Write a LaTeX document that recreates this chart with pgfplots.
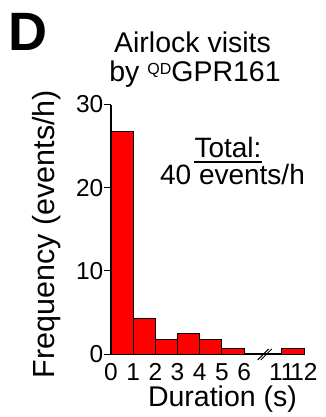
\documentclass[border=0pt]{standalone}
\usepackage{pgfplots}
\pgfplotsset{compat=1.18}
\usepackage{fontspec}
\setmainfont{Liberation Sans}
\newcommand\fs[1]{\fontsize{#1bp}{#1bp}\selectfont}
\newcommand\at[2]{([xshift=#1bp-111bp,yshift=354bp-#2bp]O)}
\begin{document}
\begin{tikzpicture}
\begin{axis}[
  at={(0,0)}, anchor=south west,
  scale only axis,
  width=193bp, height=249.5bp,
  xmin=0, xmax=8.7, ymin=0, ymax=30,
  axis x line=bottom, axis y line=left,
  axis line style={-, line width=1.1bp},
  ybar, bar width=1, bar shift=0pt,
  xtick={0,1,2,3,4,5,6,7.7,8.7},
  xticklabels={0,1,2,3,4,5,6,11,12},
  ytick={0,10,20,30},
  x tick style={draw=none},
  y tick style={line width=1bp, black},
  major tick length=6.5bp,
  tick align=outside,
  /pgf/number format/assume math mode=true,
  tick label style={font=\fs{24.5}},
  yticklabel style={inner sep=1bp},
  xticklabel style={inner sep=1bp, yshift=-2bp},
  clip=false,
]
\addplot[fill=red, draw=black, line width=0.9bp] coordinates {
  (0.5,26.7) (1.5,4.3) (2.5,1.7) (3.5,2.5) (4.5,1.7) (5.5,0.7) (8.2,0.7)
};
\coordinate (O) at (axis cs:0,0);
\draw[line width=1bp] ([xshift=-5.5bp,yshift=-6bp]axis cs:6.86,0) -- ([xshift=5.5bp,yshift=5bp]axis cs:6.86,0);
\draw[line width=1bp] ([xshift=-5.5bp,yshift=-6bp]axis cs:7.0,0) -- ([xshift=5.5bp,yshift=5bp]axis cs:7.0,0);
\end{axis}
% panel letter
\node[anchor=north west, inner sep=0, font=\fs{54}\bfseries] at \at{8}{13} {D};
% title
\node[anchor=base, inner sep=0, font=\fs{28.5}] at \at{192.5}{53} {Airlock visits};
\node[anchor=base, inner sep=0, font=\fs{28.5}] at \at{195}{82} {by \raisebox{7bp}{\fs{16}QD}GPR161};
% total
\node[anchor=base, inner sep=0, font=\fs{28}] (T) at \at{228}{158} {Total:};
\draw[line width=1.3bp] ([yshift=-4bp]T.base west) -- ([yshift=-4bp]T.base east);
\node[anchor=base, inner sep=0, font=\fs{28}] at \at{232.5}{185} {40 events/h};
% axis labels
\node[anchor=base, inner sep=0, rotate=90, font=\fs{30.5}] at \at{55}{234} {Frequency (events/h)};
\node[anchor=base, inner sep=0, font=\fs{28.5}] at \at{222.5}{406} {Duration (s)};
\pgfresetboundingbox
\path[use as bounding box] \at{0}{417} rectangle \at{326}{0};
\end{tikzpicture}
\end{document}
